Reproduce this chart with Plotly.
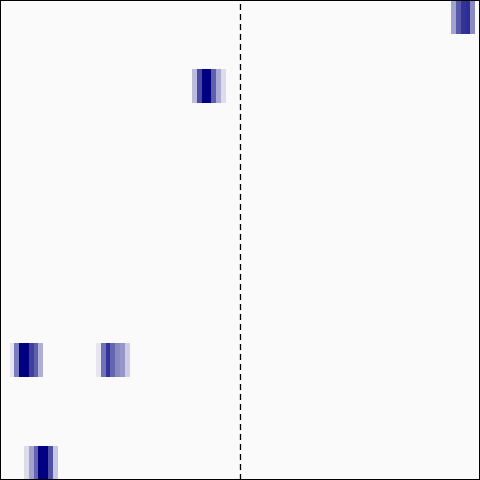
import numpy as np
import plotly.graph_objects as go

n_rows = 14
n_cols = 100

# Non-zero pulses: (row, start column, values)
row_a, start_a, vals_a = 0, 94, [0.35, 0.65, 0.8, 0.82, 0.45]
row_b, start_b, vals_b = 2, 40, [0.25, 0.7, 1.0, 1.0, 0.62, 0.32, 0.12]
row_c, start_c, vals_c = 10, 2, [0.08, 0.5, 1.0, 1.0, 0.75, 0.62, 0.3]
row_d, start_d, vals_d = 10, 20, [0.08, 0.55, 0.8, 0.6, 0.45, 0.4, 0.18]
row_e, start_e, vals_e = 13, 5, [0.12, 0.35, 0.6, 1.0, 1.0, 0.68, 0.2]

z = np.zeros((n_rows, n_cols))
for r, s, v in [(row_a, start_a, vals_a), (row_b, start_b, vals_b),
                (row_c, start_c, vals_c), (row_d, start_d, vals_d),
                (row_e, start_e, vals_e)]:
    z[r, s:s + len(v)] = v

fig = go.Figure(go.Heatmap(
    z=z,
    x=list(range(n_cols)),
    y=list(range(n_rows)),
    zmin=0, zmax=1,
    colorscale=[[0, "#fafafa"], [1, "#000080"]],
    showscale=False,
    hoverinfo="skip",
))

fig.add_shape(type="line", x0=49.6, x1=49.6, y0=0, y1=1, xref="x", yref="paper",
              line=dict(color="black", width=1.3, dash="6px,4px"))
fig.add_shape(type="rect", x0=0, x1=1, y0=0, y1=1, xref="paper", yref="paper",
              line=dict(color="black", width=2))

fig.update_layout(
    width=480, height=480,
    margin=dict(l=0, r=0, t=0, b=0),
    paper_bgcolor="white", plot_bgcolor="#fafafa",
    xaxis=dict(visible=False, range=[-0.5, n_cols - 0.5]),
    yaxis=dict(visible=False, range=[n_rows - 0.5, -0.5]),
)

fig.write_html("out.html", config={"displayModeBar": False},
               post_script="document.body.style.margin='0';document.body.style.overflow='hidden';")
